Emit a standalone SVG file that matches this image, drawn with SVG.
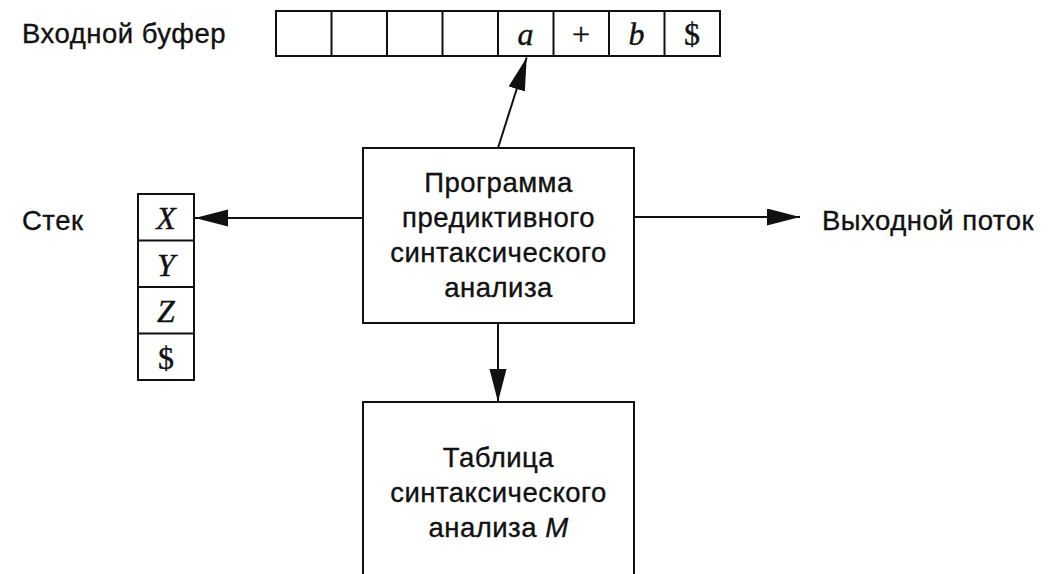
<svg xmlns="http://www.w3.org/2000/svg" width="1063" height="574" viewBox="0 0 1063 574">
  <style>
    .box { fill: #fff; stroke: #111; stroke-width: 2; }
    .cell { fill: none; stroke: #111; stroke-width: 2; }
    .lbl { font-family: "Liberation Sans", Arial, sans-serif; font-size: 27.5px; letter-spacing: 0.5px; fill: #111; stroke: #111; stroke-width: 0.35px; }
    .ctr { text-anchor: middle; }
    .sym { font-family: "Liberation Serif", "Times New Roman", serif; font-size: 32px; fill: #111; stroke: #111; stroke-width: 0.4px; text-anchor: middle; }
    .it { font-style: italic; }
    .wire { fill: none; stroke: #111; stroke-width: 2; }
  </style>
  <defs>
    <marker id="arrow" markerUnits="userSpaceOnUse" markerWidth="34" markerHeight="18" refX="33" refY="8.5" orient="auto">
      <path d="M0,0 L33,8.5 L0,17 z" fill="#111"/>
    </marker>
  </defs>
  <rect width="1063" height="574" fill="#fff"/>

  <!-- input buffer -->
  <g id="input-buffer">
    <text class="lbl" x="22" y="43">Входной буфер</text>
    <rect class="cell" x="276" y="11" width="444" height="45"/>
    <path class="cell" d="M331.5,11V56M387,11V56M442.5,11V56M498,11V56M553.5,11V56M609,11V56M664.5,11V56"/>
    <text class="sym it" x="525.5" y="45">a</text>
    <text class="sym" x="581" y="45">+</text>
    <text class="sym it" x="636.5" y="45">b</text>
    <text class="sym" x="692" y="45">$</text>
  </g>

  <!-- stack -->
  <g id="stack">
    <text class="lbl" x="22" y="230">Стек</text>
    <rect class="cell" x="138" y="194" width="56" height="186"/>
    <path class="cell" d="M138,240.5H194M138,287H194M138,333.5H194"/>
    <text class="sym it" x="166" y="229">X</text>
    <text class="sym it" x="166" y="275.5">Y</text>
    <text class="sym it" x="166" y="322">Z</text>
    <text class="sym" x="166" y="368.5">$</text>
  </g>

  <!-- parser program -->
  <g id="parser">
    <rect class="box" x="363" y="148" width="271" height="175"/>
    <text class="lbl ctr" x="498.5" y="192">Программа</text>
    <text class="lbl ctr" x="498.5" y="227">предиктивного</text>
    <text class="lbl ctr" x="498.5" y="262">синтаксического</text>
    <text class="lbl ctr" x="498.5" y="297">анализа</text>
  </g>

  <!-- parsing table -->
  <g id="parse-table">
    <rect class="box" x="363" y="402" width="271" height="190"/>
    <text class="lbl ctr" x="498.5" y="467">Таблица</text>
    <text class="lbl ctr" x="498.5" y="502">синтаксического</text>
    <text class="lbl ctr" x="498.5" y="537">анализа <tspan font-style="italic">M</tspan></text>
  </g>

  <!-- output stream -->
  <g id="output">
    <text class="lbl" x="822" y="230">Выходной поток</text>
  </g>

  <!-- connectors -->
  <g id="connectors">
    <line class="wire" x1="498" y1="148" x2="526.7" y2="57.5" marker-end="url(#arrow)"/>
    <line class="wire" x1="363" y1="218" x2="195" y2="218" marker-end="url(#arrow)"/>
    <line class="wire" x1="634" y1="217" x2="800" y2="217" marker-end="url(#arrow)"/>
    <line class="wire" x1="498" y1="323" x2="498" y2="402" marker-end="url(#arrow)"/>
  </g>
</svg>
